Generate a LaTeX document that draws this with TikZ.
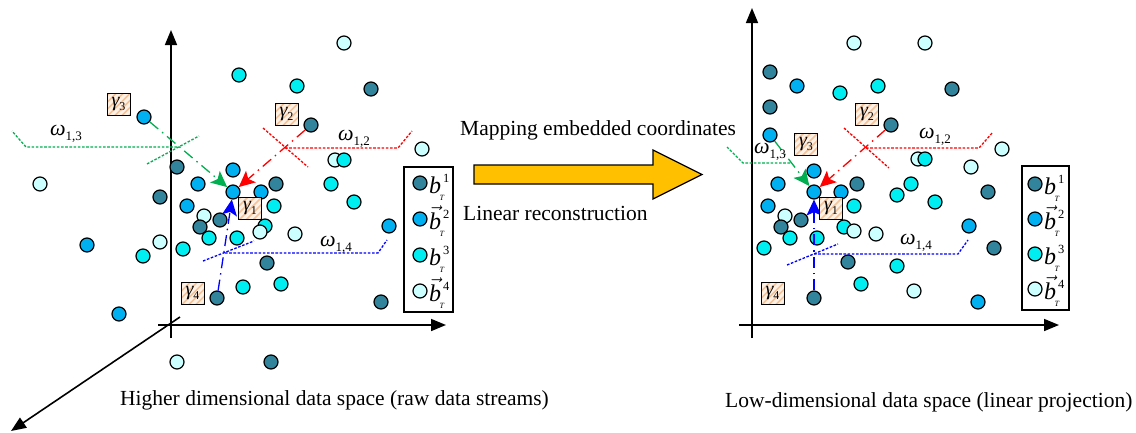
\documentclass[tikz,border=0pt]{standalone}
\usepackage{fontspec}
\setmainfont{Liberation Serif}
\usetikzlibrary{arrows.meta,calc}

\definecolor{cDark}{HTML}{31849B}
\definecolor{cBlue}{HTML}{00B0F0}
\definecolor{cCyan}{HTML}{00EEF2}
\definecolor{cPale}{HTML}{CCFFFF}
\definecolor{gGreen}{HTML}{00B050}
\definecolor{bigArrow}{HTML}{FFC000}
\definecolor{hatchBg}{HTML}{FDF1E6}
\definecolor{hatchLn}{HTML}{F6C29A}

% one legend row: dot, italic b, superscript digit, subscript T
\newcommand\legrow[5]{%
  \node[#3] (#1) at #2 {};
  \node[anchor=base west, inner sep=0pt, font=\fontsize{24}{24}\selectfont\itshape] (#1b) at ($(#1)+(9,10)$) {#4};
  \node[anchor=base west, inner sep=0pt, font=\fontsize{12.5}{12.5}\selectfont] (#1s) at ($(#1b.base east)+(1.5,-11)$) {#5};
  \node[anchor=north, inner sep=0pt, font=\fontsize{8}{8}\selectfont\itshape] (#1t) at ($(#1b.base east)+(0.5,2.5)$) {T};
}

\begin{document}
\begin{tikzpicture}[x=1pt,y=-1pt,
  datapt/.style={circle, draw=black, line width=1.2pt, minimum size=14pt, inner sep=0pt},
  dA/.style={datapt, fill=cDark},
  dB/.style={datapt, fill=cBlue},
  dC/.style={datapt, fill=cCyan},
  dD/.style={datapt, fill=cPale},
  axis/.style={line width=1.6pt, -{Triangle[length=15pt,width=12pt]}},
  conn/.style={line width=1.3pt, dash pattern=on 11pt off 5pt on 1.5pt off 5pt,
               -{Stealth[length=16pt,width=15pt,inset=3.5pt]}},
  lead/.style={line width=1.3pt, dash pattern=on 2.6pt off 1.6pt},
  gbox/.style={draw=black, line width=0.9pt, fill=hatchBg, minimum width=23pt,
               minimum height=22pt, inner sep=0pt,
               font=\fontsize{20}{20}\selectfont,
               path picture={\foreach \k in {-20,-13,...,22}{
                 \draw[hatchLn, line width=1.6pt]
                   ($(path picture bounding box.south west)+(\k,0)$) -- ++(26,-26);}}},
  wlab/.style={anchor=base west, inner sep=0pt, font=\fontsize{22}{22}\selectfont},
  caption/.style={anchor=base west, inner sep=0pt, font=\fontsize{21.5}{21.5}\selectfont},
  legframe/.style={draw=black, line width=1.5pt}
]
\useasboundingbox (0,0) rectangle (1136,432);

% ---------------- high-dimensional space ----------------
\coordinate (Lo) at (171,325);
\draw[axis] (171,338) -- (171,30);
\draw[axis] (158,325) -- (446,325);
\draw[axis] (180,317) -- (11,431);

\foreach \n/\x/\y/\s in {
  1/344/43/dD, 2/239/75/dC, 3/297/86/dC, 4/371/89/dA, 5/144/117/dB,
  6/311/125/dA, 7/422/149/dD, 8a/335/160/dD, 8b/344/160/dC, 9/177/167/dA,
  10/233/170/dB, 11/40/184/dD, 12/198/184/dB, 13/233/192/dB, 14/261/192/dB,
  15/276/184/dA, 16/331/184/dC, 17/160/197/dA, 18/187/206/dB, 19/274/206/dC,
  20/354/202/dC, 21/204/216/dD, 22/220/220/dA, 23/200/227/dA, 24a/265/226/dC,
  24b/260/232/dD, 25/389/226/dB, 26/295/234/dD, 27/209/238/dC, 28/237/238/dC,
  29/87/245/dB, 30/160/242/dD, 31/183/249/dC, 32/143/256/dC, 33/267/263/dA,
  34/243/287/dC, 35/281/284/dC, 36/217/298/dA, 37/381/302/dA, 38/119/314/dB,
  39/177/362/dD, 40/271/362/dA}
  \node[\s] (l\n) at (\x,\y) {};

% reconstruction weights: gamma_3 (green), gamma_2 (red), gamma_4 (blue)
\coordinate (gxL) at (177,147);
\draw[lead, gGreen] (147,164) -- (199,136);
\draw[lead, gGreen] (gxL) -- (26,147) -- (12,131);
\draw[conn, gGreen] (l5) -- (l13);

\coordinate (rxL) at (285,148);
\draw[lead, red] (263,128) -- (308,167);
\draw[lead, red] (rxL) -- (398,148) -- (412,131);
\draw[conn, red] (l6) -- (l13);

\coordinate (bxL) at (225,253);
\draw[lead, blue] (203,261) -- (254,241);
\draw[lead, blue] (bxL) -- (378,253) -- (387,240);
\draw[conn, blue] (l36) -- (l13);

\node[gbox] (g3L) at (118.5,104.5) {\itshape γ\raisebox{-4pt}{\upshape\fontsize{12}{12}\selectfont 3}};
\node[gbox] (g2L) at (286.5,114.5) {\itshape γ\raisebox{-4pt}{\upshape\fontsize{12}{12}\selectfont 2}};
\node[gbox] (g1L) at (250,208.5) {\itshape γ\raisebox{-4pt}{\upshape\fontsize{12}{12}\selectfont 1}};
\node[gbox] (g4L) at (192.5,293.5) {\itshape γ\raisebox{-4pt}{\upshape\fontsize{12}{12}\selectfont 4}};

\node[wlab] (w13L) at (50,135) {\itshape ω\raisebox{-5pt}{\upshape\fontsize{13}{13}\selectfont 1,3}};
\node[wlab] (w12L) at (338,140) {\itshape ω\raisebox{-5pt}{\upshape\fontsize{13}{13}\selectfont 1,2}};
\node[wlab] (w14L) at (320,246) {\itshape ω\raisebox{-5pt}{\upshape\fontsize{13}{13}\selectfont 1,4}};

\draw[legframe] (404,167) rectangle (453,312);
\legrow{lg1}{(420,183)}{dA}{b}{1}
\legrow{lg2}{(420,219)}{dB}{$\vec{\hbox{b}}$}{2}
\legrow{lg3}{(420,255)}{dC}{b}{3}
\legrow{lg4}{(420,291)}{dD}{$\vec{\hbox{b}}$}{4}

\node[caption] (capL) at (120,405) {Higher dimensional data space (raw data streams)};

% ---------------- mapping arrow ----------------
\draw[line width=1.3pt, fill=bigArrow]
  (474,165) -- (653,165) -- (653,150) -- (702,174.5) -- (653,199) -- (653,184) -- (474,184) -- cycle;
\node[caption] (mapT) at (460,135) {Mapping embedded coordinates};
\node[caption] (recT) at (463,220) {Linear reconstruction};

% ---------------- low-dimensional space ----------------
\draw[axis] (752,338) -- (752,8);
\draw[axis] (739,325) -- (1059,325);

\foreach \n/\x/\y/\s in {
  1/854/43/dD, 2/925/43/dD, 3/770/72/dA, 4/797/86/dB, 5/840/93/dC,
  6/878/86/dC, 7/952/89/dA, 8/770/107/dA, 9/891/125/dA, 10/770/135/dB,
  11/1002/149/dD, 12a/918/159/dD, 12b/925/159/dC, 13/971/167/dD, 14/814/171/dB,
  15/778/184/dB, 16/814/192/dB, 17/841/192/dB, 18/857/184/dA, 19/911/184/dC,
  20/897/195/dC, 21/935/202/dC, 22/988/192/dA, 23/768/206/dB, 24/854/206/dC,
  25/785/216/dD, 26/801/220/dA, 27/781/227/dA, 28a/844/227/dC, 28b/854/231/dD,
  29/876/234/dD, 30/969/226/dB, 31/790/238/dC, 32/817/238/dC, 33/764/248/dC,
  34/994/248/dA, 35/848/262/dA, 36/897/266/dC, 37/861/284/dC, 38/914/291/dD,
  39/814/298/dA, 40/978/302/dB}
  \node[\s] (r\n) at (\x,\y) {};

\coordinate (gxR) at (790,163);
\draw[lead, gGreen] (gxR) -- (743,163) -- (727,147);
\draw[conn, gGreen] (r10) -- (r16);

\coordinate (rxR) at (866,148);
\draw[lead, red] (844,128) -- (889,168);
\draw[lead, red] (rxR) -- (979,148) -- (993,132);
\draw[conn, red] (r9) -- (r16);

\coordinate (bxR) at (814,254);
\draw[lead, blue] (787,265) -- (838,244);
\draw[lead, blue] (bxR) -- (958,254) -- (968,240);
\draw[conn, blue] (r39) -- (r16);

\node[gbox] (g2R) at (867,114.5) {\itshape γ\raisebox{-4pt}{\upshape\fontsize{12}{12}\selectfont 2}};
\node[gbox] (g3R) at (806,144.5) {\itshape γ\raisebox{-4pt}{\upshape\fontsize{12}{12}\selectfont 3}};
\node[gbox] (g1R) at (831,208.5) {\itshape γ\raisebox{-4pt}{\upshape\fontsize{12}{12}\selectfont 1}};
\node[gbox] (g4R) at (772.5,293.5) {\itshape γ\raisebox{-4pt}{\upshape\fontsize{12}{12}\selectfont 4}};

\node[wlab] (w13R) at (754,153) {\itshape ω\raisebox{-5pt}{\upshape\fontsize{13}{13}\selectfont 1,3}};
\node[wlab] (w12R) at (919,138) {\itshape ω\raisebox{-5pt}{\upshape\fontsize{13}{13}\selectfont 1,2}};
\node[wlab] (w14R) at (900,244) {\itshape ω\raisebox{-5pt}{\upshape\fontsize{13}{13}\selectfont 1,4}};

\draw[legframe] (1022,166) rectangle (1069,310);
\legrow{rg1}{(1035,184)}{dA}{b}{1}
\legrow{rg2}{(1035,219)}{dB}{$\vec{\hbox{b}}$}{2}
\legrow{rg3}{(1035,254)}{dC}{b}{3}
\legrow{rg4}{(1035,289)}{dD}{$\vec{\hbox{b}}$}{4}

\node[caption] (capR) at (725,407) {Low-dimensional data space (linear projection)};
\end{tikzpicture}
\end{document}
